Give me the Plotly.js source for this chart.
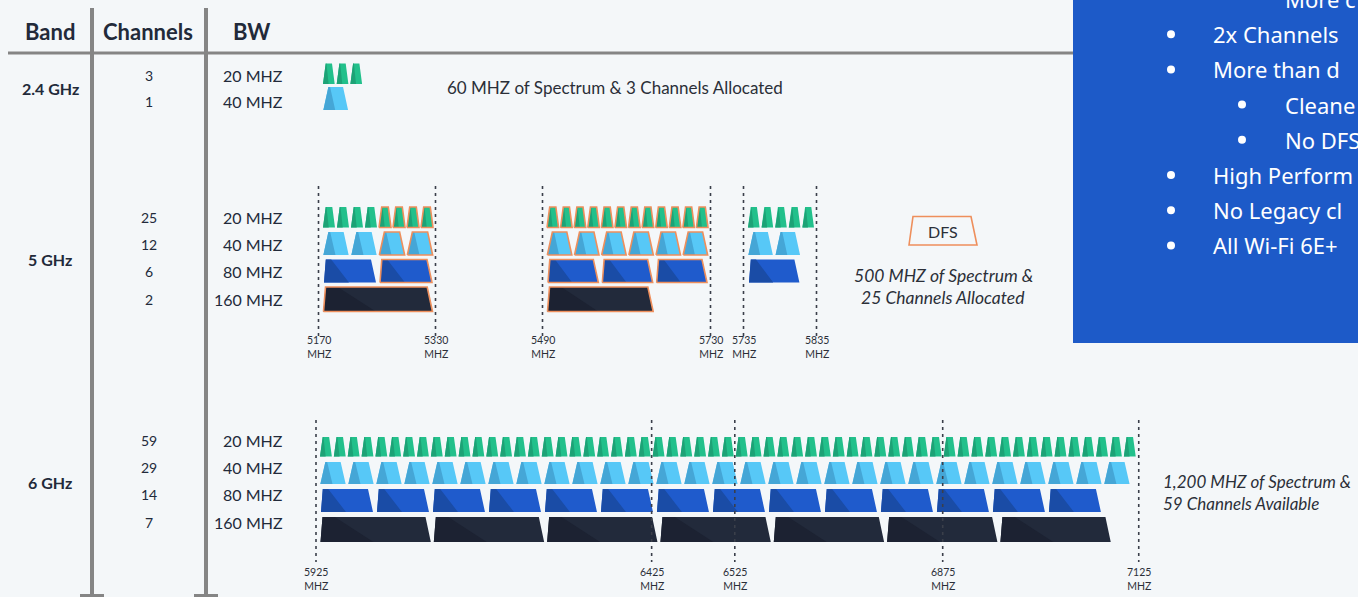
<!DOCTYPE html>
<html><head><meta charset="utf-8">
<script src="https://cdn.plot.ly/plotly-3.0.1.min.js"></script>
<style>html,body{margin:0;padding:0;background:#f4f7f9;overflow:hidden}#chart{width:1358px;height:597px}</style>
</head><body><div id="chart"></div>
<script>
// ================= DATA =================
const headers = ["Band", "Channels", "BW"];
const bands = ["2.4 GHz", "5 GHz", "6 GHz"];
const bwLabels = ["20 MHZ", "40 MHZ", "80 MHZ", "160 MHZ"];

// 2.4 GHz
const bw24 = [20, 40];
const channels24 = [3, 1];
const note24 = "60 MHZ of Spectrum & 3 Channels Allocated";

// 5 GHz
const bw5 = [20, 40, 80, 160];
const channels5 = [25, 12, 6, 2];
const seg5Start = [5170, 5490, 5735];       // MHz
const seg5End = [5330, 5730, 5835];         // MHz
const seg5Ch20 = [8, 12, 5];
const seg5Ch40 = [4, 6, 2];
const seg5Ch80 = [2, 3, 1];
const seg5Ch160 = [1, 1, 0];
const dfsStart = [5250, 5490];
const dfsEnd = [5330, 5730];
const note5 = ["500 MHZ of Spectrum &", "25 Channels Allocated"];

// 6 GHz
const bw6 = [20, 40, 80, 160];
const channels6 = [59, 29, 14, 7];
const edges6 = [5925, 6425, 6525, 6875, 7125];   // MHz sub-band edges
const note6 = ["1,200 MHZ of Spectrum &", "59 Channels Available"];

// side panel bullets (visible part, panel is cut at the right edge)
const bulletText = ["More c", "2x Channels", "More than d", "Cleane", "No DFS", "High Perform", "No Legacy cl", "All Wi-Fi 6E+"];
const bulletLevel = [2, 1, 1, 2, 2, 1, 1, 1];

// ================= LAYOUT / STYLE =================
const W = 1358, H = 597;
const FONT = "Lato, 'Noto Sans', sans-serif";
const INK = "#222a3a";
const COL = {20: ["#22c08b", "#1da276"], 40: ["#57c8f7", "#45a6d6"], 80: ["#1f5bcc", "#1a4ca6"], 160: ["#222a3b", "#1c2232"]};
const DFS = "#ee8f5c";
const GEO = {20: [2, 2.7, 2.7], 40: [2.7, 5, 5], 80: [4, 1.8, 5], 160: [3, 2, 5.3]};
const rows24 = {20: [63.5, 84], 40: [87, 110]};
const rows5 = {20: [207, 227.5], 40: [232, 255], 80: [259.5, 282.5], 160: [287, 311.5]};
const rows6 = {20: [437, 456.5], 40: [462, 484], 80: [489, 512], 160: [517, 542]};
const label24Y = [75, 101], label5Y = [217, 244, 271, 299], label6Y = [440, 467, 494, 522];
const slotPx = 13.7, x24 = 322;
const seg5Px = [[322, 434], [546, 709], [747, 815]];
const x6 = 319, slot6 = 13.86, edgeSlots6 = [0, 24, 30, 45, 59];
const stretch6 = {20: 1, 40: 1.01, 80: 1.01, 160: 1.022};

// ================= BUILD =================
const polys = {};
function add(key, xs, ys) {
  if (!polys[key]) polys[key] = {x: [], y: []};
  polys[key].x.push(...xs, xs[0], null);
  polys[key].y.push(...ys, ys[0], null);
}
function trap(bw, xa, xb, row, dfs) {
  const [gap, li, ri] = GEO[bw];
  const b0 = xa + gap / 2, b1 = xb - gap / 2;
  const t0 = b0 + li, t1 = b1 - ri;
  const [yt, yb] = row;
  add("L" + bw, [b0, t0, t1, b1], [yb, yt, yt, yb]);
  const bwid = b1 - b0, twid = t1 - t0;
  add("D" + bw, [b0, t0, t0 + 0.12 * twid, b0 + 0.48 * bwid], [yb, yt, yt, yb]);
  if (dfs) add("O", [b0, t0, t1, b1], [yb, yt, yt, yb]);
}

bw24.forEach((bw, i) => {
  const w = bw / 20;
  for (let k = 0; k < channels24[i]; k++) trap(bw, x24 + k * w * slotPx, x24 + (k + 1) * w * slotPx, rows24[bw], false);
});

const seg5Counts = {20: seg5Ch20, 40: seg5Ch40, 80: seg5Ch80, 160: seg5Ch160};
function map5(seg, f) {
  const [pa, pb] = seg5Px[seg];
  return pa + (f - seg5Start[seg]) / (seg5End[seg] - seg5Start[seg]) * (pb - pa);
}
bw5.forEach(bw => {
  seg5Start.forEach((s, i) => {
    for (let k = 0; k < seg5Counts[bw][i]; k++) {
      const fa = s + k * bw, fb = fa + bw;
      const dfs = dfsStart.some((d, j) => fa < dfsEnd[j] && fb > d);
      trap(bw, map5(i, fa), map5(i, fb), rows5[bw], dfs);
    }
  });
});

function slotX(bw, slot) { return x6 + slot * slot6 * stretch6[bw]; }
bw6.forEach((bw, i) => {
  const w = bw / 20;
  for (let k = 0; k < channels6[i]; k++) trap(bw, slotX(bw, k * w), slotX(bw, (k + 1) * w), rows6[bw], false);
});

const traces = [];
[20, 40, 80, 160].forEach(bw => {
  traces.push({type: "scatter", mode: "lines", x: polys["L" + bw].x, y: polys["L" + bw].y, fill: "toself", fillcolor: COL[bw][0], line: {width: 0, color: COL[bw][0]}, hoverinfo: "skip", showlegend: false});
  traces.push({type: "scatter", mode: "lines", x: polys["D" + bw].x, y: polys["D" + bw].y, fill: "toself", fillcolor: COL[bw][1], line: {width: 0, color: COL[bw][1]}, hoverinfo: "skip", showlegend: false});
});
traces.push({type: "scatter", mode: "lines", x: polys.O.x, y: polys.O.y, line: {width: 1.6, color: DFS}, hoverinfo: "skip", showlegend: false});

// bullets of the side panel as markers
const bulletY = bulletText.map((t, i) => -1 + i * 35.2);
traces.push({type: "scatter", mode: "markers", x: bulletLevel.map(l => l === 1 ? 1171 : 1242), y: bulletY,
  marker: {size: 8, color: "#ffffff", line: {width: 0}}, cliponaxis: false, hoverinfo: "skip", showlegend: false});

// ================= SHAPES & TEXT =================
const shapes = [];
const ann = [];
function txt(x, y, t, size, opts = {}) {
  ann.push(Object.assign({x, y, xref: "x", yref: "y", text: t, showarrow: false, xanchor: "center", yanchor: "middle",
    font: {family: FONT, size, color: INK}}, opts));
}
const SOFT = "#2b2f38";
function soft(size) { return {family: FONT, size, color: SOFT}; }
const GRAY = "#858585";
shapes.push({type: "line", xref: "x", yref: "y", x0: 8, x1: 1073, y0: 53, y1: 53, line: {color: GRAY, width: 3}});
[92, 206].forEach(x => {
  shapes.push({type: "line", xref: "x", yref: "y", x0: x, x1: x, y0: 8, y1: 597, line: {color: GRAY, width: 4}});
  shapes.push({type: "line", xref: "x", yref: "y", x0: x - 12, x1: x + 12, y0: 595.5, y1: 595.5, line: {color: GRAY, width: 3}});
});
[50, 148, 251].forEach((x, i) => txt(x, 31, "<b>" + headers[i] + "</b>", 22));
[88, 259, 482].forEach((y, i) => txt(50, y, "<b>" + bands[i] + "</b>", 16));
channels24.forEach((c, i) => { txt(149, label24Y[i], String(c), 14); txt(285, label24Y[i], bwLabels[i], 16, {xanchor: "right"}); });
channels5.forEach((c, i) => { txt(149, label5Y[i], String(c), 14); txt(285, label5Y[i], bwLabels[i], 16, {xanchor: "right"}); });
channels6.forEach((c, i) => { txt(149, label6Y[i], String(c), 14); txt(285, label6Y[i], bwLabels[i], 16, {xanchor: "right"}); });

const dash = {color: "#3a3f4a", width: 1.6, dash: "3px,4px"};
seg5Start.forEach((s, i) => {
  [[s, -3.5], [seg5End[i], 1.5]].forEach(([f, off]) => {
    const x = map5(i, f) + off;
    shapes.push({type: "line", xref: "x", yref: "y", x0: x, x1: x, y0: 186, y1: 336, line: dash});
    txt(x, 346.5, f + "<br>MHZ", 10.5, {font: soft(10.5)});
  });
});
edges6.forEach((f, i) => {
  const off = i === 0 ? -3 : (i === edges6.length - 1 ? 2 : 0);
  const x = slotX(20, edgeSlots6[i]) + off;
  shapes.push({type: "line", xref: "x", yref: "y", x0: x, x1: x, y0: 420, y1: 562, line: dash});
  txt(x, 578.5, f + "<br>MHZ", 10.5, {font: soft(10.5)});
});

txt(615, 87, note24, 17, {font: soft(17)});
txt(943, 275, "<i>" + note5[0] + "</i>", 17.5, {font: soft(17.5)});
txt(943, 297, "<i>" + note5[1] + "</i>", 17.5, {font: soft(17.5)});
txt(1161, 481, "<i>" + note6[0] + "</i>", 17, {xanchor: "left", font: soft(17)});
txt(1161, 503, "<i>" + note6[1] + "</i>", 17, {xanchor: "left", font: soft(17)});
shapes.push({type: "path", xref: "x", yref: "y", path: "M 909 245 L 913 216.5 L 971 216.5 L 977 245 Z", line: {color: DFS, width: 1.6}, fillcolor: "rgba(0,0,0,0)"});
txt(943, 231, "DFS", 16, {font: soft(16)});

// side panel
shapes.push({type: "rect", xref: "x", yref: "y", x0: 1073, x1: 1400, y0: -10, y1: 343, fillcolor: "#1d5ac8", line: {width: 0}, layer: "below"});
bulletText.forEach((t, i) => {
  const yp = 1 - bulletY[i] / H;
  const tx = bulletLevel[i] === 1 ? 1211 : 1283;
  ann.push({x: tx, y: yp, xref: "x", yref: "paper", text: t, showarrow: false, xanchor: "left", yanchor: "middle", font: {family: "'Noto Sans', sans-serif", size: 22, color: "#ffffff"}});
});

const layout = {
  width: W, height: H, margin: {l: 0, r: 0, t: 0, b: 0},
  paper_bgcolor: "#f4f7f9", plot_bgcolor: "#f4f7f9",
  xaxis: {range: [0, W], visible: false, fixedrange: true},
  yaxis: {range: [H, 0], visible: false, fixedrange: true},
  shapes, annotations: ann, showlegend: false
};
Plotly.newPlot("chart", traces, layout, {staticPlot: true, displayModeBar: false});
</script></body></html>
